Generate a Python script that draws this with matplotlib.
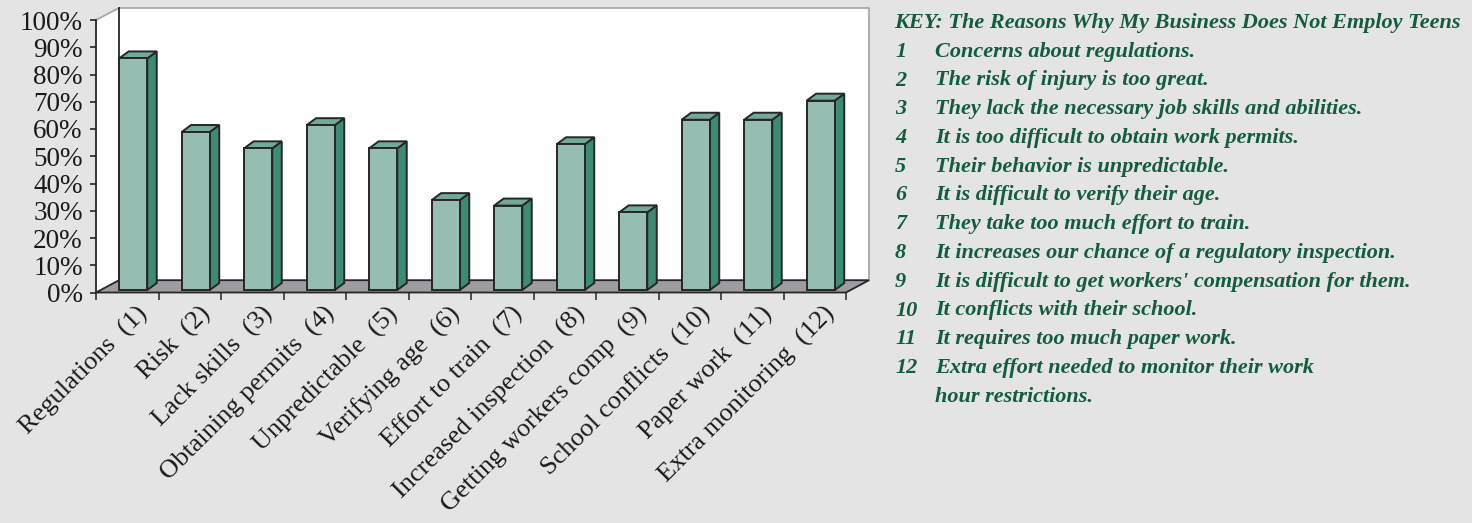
import matplotlib
matplotlib.use("Agg")
import matplotlib.pyplot as plt
from matplotlib.patches import Polygon
from matplotlib.transforms import ScaledTranslation

# ---- data ----
categories = ["Regulations  (1)", "Risk  (2)", "Lack skills  (3)", "Obtaining permits  (4)",
              "Unpredictable  (5)", "Verifying age  (6)", "Effort to train  (7)",
              "Increased inspection  (8)", "Getting workers comp  (9)",
              "School conflicts  (10)", "Paper work  (11)", "Extra monitoring  (12)"]
values = [85, 58, 52, 60.5, 52, 33, 31, 53.5, 28.5, 62.5, 62.5, 69.5]
ytick_values = [0, 10, 20, 30, 40, 50, 60, 70, 80, 90, 100]
ytick_labels = [f"{v}%" for v in ytick_values]
key_title = "KEY: The Reasons Why My Business Does Not Employ Teens"
key_numbers = ["1", "2", "3", "4", "5", "6", "7", "8", "9", "10", "11", "12", ""]
key_texts = ["Concerns about regulations.",
             "The risk of injury is too great.",
             "They lack the necessary job skills and abilities.",
             "It is too difficult to obtain work permits.",
             "Their behavior is unpredictable.",
             "It is difficult to verify their age.",
             "They take too much effort to train.",
             "It increases our chance of a regulatory inspection.",
             "It is difficult to get workers' compensation for them.",
             "It conflicts with their school.",
             "It requires too much paper work.",
             "Extra effort needed to monitor their work",
             "hour restrictions."]

# ---- style ----
W, H = 1472, 523
BG = "#e4e4e4"
FRONT = "#96bdb2"
SIDE = "#3d8a75"
TOP = "#72a999"
FLOOR = "#9c9ca1"
EDGE = "#262626"
GREEN = "#135c3d"
SERIF = "Liberation Serif"

fig = plt.figure(figsize=(W / 100, H / 100), dpi=100, facecolor=BG)

# pixel geometry
x0_px, cat_px = 96, 62.5
y0_px, pct_px = 292.5, 2.725
xmax, ymax = 12.4, 105
ax = fig.add_axes([x0_px / W, (H - y0_px) / H, xmax * cat_px / W, ymax * pct_px / H])
ax.set_xlim(0, xmax)
ax.set_ylim(0, ymax)
ax.patch.set_visible(False)

n = len(values)
DDX, DDY = 23 / cat_px, 12.3 / pct_px      # floor depth
BDX, BDY = 9.5 / cat_px, 7.0 / pct_px      # bar depth
bar_off, bar_w, bar_b = 0.37, 0.45, 0.9
top_wall = 100 + 12 / pct_px

# walls
ax.add_patch(Polygon([(DDX, DDY), (n + DDX, DDY), (n + DDX, top_wall), (DDX, top_wall)],
                     closed=True, facecolor="white", edgecolor="none", zorder=0, clip_on=False))
ax.add_patch(Polygon([(0, 0), (DDX, DDY), (DDX, top_wall), (0, 100)],
                     closed=True, facecolor="white", edgecolor="none", zorder=0, clip_on=False))
ax.plot([0, DDX, n + DDX, n + DDX], [100, top_wall, top_wall, DDY], color="#a9a9a9",
        lw=1.3, zorder=1, clip_on=False)
ax.plot([DDX, DDX], [DDY, top_wall], color=EDGE, lw=1.3, zorder=1, clip_on=False)
# floor
ax.add_patch(Polygon([(0, 0), (n, 0), (n + DDX, DDY), (DDX, DDY)], closed=True,
                     facecolor=FLOOR, edgecolor=EDGE, lw=1.3, zorder=2, clip_on=False))

# bars
lefts = [i + bar_off for i in range(n)]
for xl, v in zip(lefts, values):
    t = bar_b + v
    ax.add_patch(Polygon([(xl + bar_w, bar_b), (xl + bar_w + BDX, bar_b + BDY),
                          (xl + bar_w + BDX, t + BDY), (xl + bar_w, t)], closed=True,
                         facecolor=SIDE, edgecolor=EDGE, lw=1.4, zorder=3, clip_on=False))
    ax.add_patch(Polygon([(xl, t), (xl + bar_w, t), (xl + bar_w + BDX, t + BDY),
                          (xl + BDX, t + BDY)], closed=True,
                         facecolor=TOP, edgecolor=EDGE, lw=1.4, zorder=3, clip_on=False))
ax.bar(lefts, values, width=bar_w, bottom=bar_b, align="edge", color=FRONT,
       edgecolor=EDGE, linewidth=1.4, zorder=4, clip_on=False)

# spines / ticks
for s in ["top", "right"]:
    ax.spines[s].set_visible(False)
ax.spines["left"].set_bounds(0, 100)
ax.spines["left"].set_color(EDGE)
ax.spines["bottom"].set_visible(False)
ax.spines["left"].set_linewidth(1.3)
ax.set_yticks(ytick_values, ytick_labels)
ax.tick_params(axis="y", length=4.5, width=1.2, color=EDGE, pad=5, labelsize=19.5,
               labelcolor="#1a1a1a")
for lab in ax.get_yticklabels():
    lab.set_fontfamily(SERIF)

ax.set_xticks(range(n + 1), [""] * (n + 1))
ax.tick_params(axis="x", which="major", length=5, width=1.2, color="#333333")
ax.set_xticks([i + 0.5 for i in range(n)], categories, minor=True)
ax.tick_params(axis="x", which="minor", length=0, pad=13, labelsize=19, labelcolor="#1a1a1a")
shift = ScaledTranslation(17 / 100, 0, fig.dpi_scale_trans)
for lab in ax.get_xticklabels(minor=True):
    lab.set_fontfamily(SERIF)
    lab.set_rotation(45)
    lab.set_ha("right")
    lab.set_va("center")
    lab.set_rotation_mode("anchor")
    lab.set_transform(lab.get_transform() + shift)

# key
kw = dict(fontfamily=SERIF, fontstyle="italic", fontweight="bold", color=GREEN,
          fontsize=16, va="baseline")
fig.text(894 / W, 1 - 28 / H, key_title, **kw)
for k, (num, txt) in enumerate(zip(key_numbers, key_texts)):
    yb = 28 + 28.75 * (k + 1)
    if num:
        fig.text(895 / W, 1 - yb / H, num, **kw)
    fig.text(935 / W, 1 - yb / H, txt, **kw)

fig.savefig("out.png", dpi=100, facecolor=BG)
